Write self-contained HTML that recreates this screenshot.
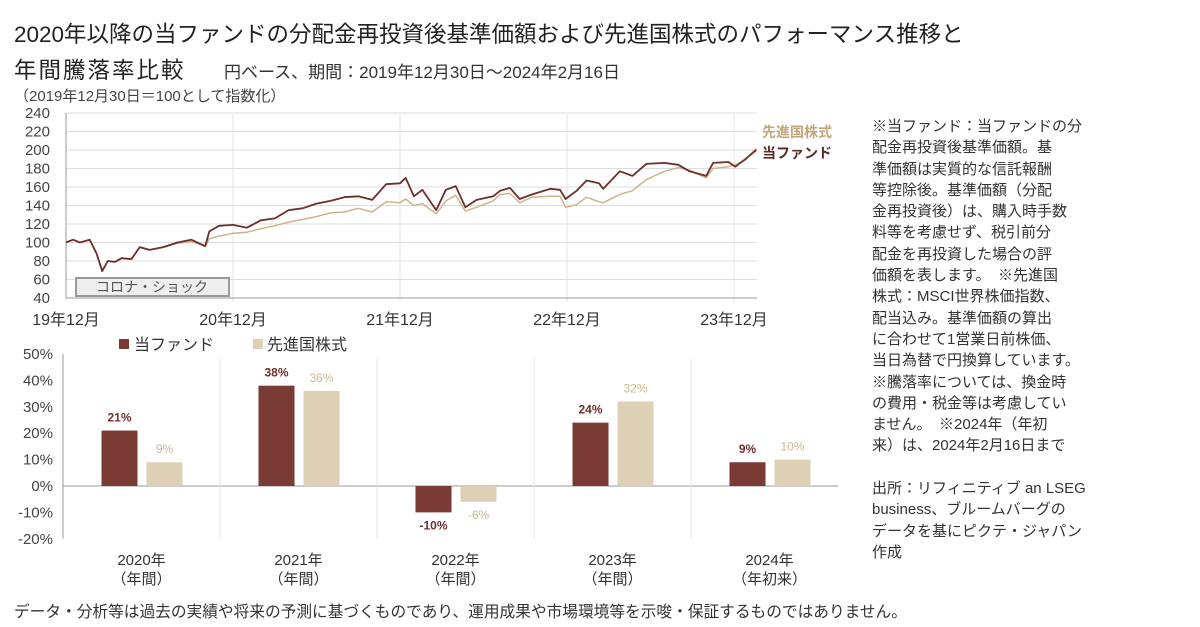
<!DOCTYPE html>
<html><head><meta charset="utf-8">
<style>
body{margin:0;background:#fff;width:1200px;height:627px;overflow:hidden;font-family:"Liberation Sans","Noto Sans CJK JP",sans-serif;color:#333}
.t{position:absolute;white-space:nowrap}
</style></head><body>
<div class="t" style="left:14px;top:17px;font-size:22.5px;color:#222">2020年以降の当ファンドの分配金再投資後基準価額および先進国株式のパフォーマンス推移と</div>
<div class="t" style="left:14px;top:53px;font-size:22.5px;color:#222;letter-spacing:2px">年間騰落率比較</div>
<div class="t" style="left:224px;top:58px;font-size:17px;color:#333">円ベース、期間：2019年12月30日～2024年2月16日</div>
<div class="t" style="left:14px;top:85px;font-size:15px;color:#444">（2019年12月30日＝100として指数化）</div>
<div class="t" style="left:872px;top:116px;font-size:15px;line-height:21.3px;color:#333">※当ファンド：当ファンドの分<br>配金再投資後基準価額。基<br>準価額は実質的な信託報酬<br>等控除後。基準価額（分配<br>金再投資後）は、購入時手数<br>料等を考慮せず、税引前分<br>配金を再投資した場合の評<br>価額を表します。　※先進国<br>株式：MSCI世界株価指数、<br>配当込み。基準価額の算出<br>に合わせて1営業日前株価、<br>当日為替で円換算しています。<br>※騰落率については、換金時<br>の費用・税金等は考慮してい<br>ません。　※2024年（年初<br>来）は、2024年2月16日まで<br><br>出所：リフィニティブ an LSEG<br>business、ブルームバーグの<br>データを基にピクテ・ジャパン<br>作成</div>
<div class="t" style="left:14px;top:599px;font-size:15.7px;color:#333">データ・分析等は過去の実績や将来の予測に基づくものであり、運用成果や市場環境等を示唆・保証するものではありません。</div>
<svg id="chart" width="1200" height="627" style="position:absolute;left:0;top:0"></svg>
<script>
const lineT=[0,0.5,1,1.7,2.2,2.6,3,3.5,4,4.7,5.3,6,7,8,9,10,10.3,11,12,13,14,15,16,17,18,19,20,21,22,23,24,24.4,25,25.6,26.6,27.3,28,28.7,29.5,30.7,31.2,31.9,32.6,33.5,34.8,35.5,35.9,36.7,37.4,38.3,38.6,39.8,40.7,41.7,43,44,44.8,46,46.5,47.6,48.1,48.8,49.6];
const fundVals=[100,103,100,103,88,69,80,79,83,82,95,92,95,100,103,96,112,118,119,116,124,126,135,137,142,145,149,150,146,163,164,170,150,157,135,157,161,138,146,150,156,159,147,152,158,157,147,156,167,164,158,177,172,185,186,184,177,172,186,187,182,190,200];
const worldVals=[100,103,100,103,88,70,80,79,83,82,95,92,95,99,101,96,104,107,110,111,115,118,122,125,128,132,133,137,133,144,143,147,140,142,131,145,151,134,138,145,152,153,143,149,150,150,138,141,149,144,143,152,156,168,177,181,178,170,180,182,184,189,202];
const yTicks=[40,60,80,100,120,140,160,180,200,220,240];
const xTickLabels=["19年12月","20年12月","21年12月","22年12月","23年12月"];
const xTickMonths=[0,12,24,36,48];
const barCats=["2020年","2021年","2022年","2023年","2024年"];
const barSub=["（年間）","（年間）","（年間）","（年間）","（年初来）"];
const fundRet=[21,38,-10,24,9];
const worldRet=[9,36,-6,32,10];
const barTicks=[50,40,30,20,10,0,-10,-20];

const svg=document.getElementById('chart');const NS='http://www.w3.org/2000/svg';
function mk(tag,attrs,parent){const e=document.createElementNS(NS,tag);for(const k in attrs)e.setAttribute(k,attrs[k]);(parent||svg).appendChild(e);return e;}
function tx(x,y,s,attrs){const e=mk('text',Object.assign({x:x,y:y,'font-size':14,fill:'#444','font-family':'"Liberation Sans","Noto Sans CJK JP",sans-serif'},attrs));e.textContent=s;return e;}
const X0=66,X1=734,pxM=(X1-X0)/48;
const xs=m=>X0+m*pxM;
const ys=v=>298-(v-40)*0.925;
yTicks.forEach(v=>{const l=mk('line',{x1:X0,x2:757,y1:ys(v),y2:ys(v),stroke:'#ddd','stroke-width':1});


const t=tx(50,ys(v)+5,String(v),{'text-anchor':'end','font-size':15});

});
xTickMonths.forEach((m,i)=>{const l=mk('line',{x1:xs(m),x2:xs(m),y1:113,y2:302,stroke:'#e4e4e4'});


const t=tx(xs(m),325,xTickLabels[i],{'text-anchor':'middle','font-size':16,fill:'#333'});

});
mk('line',{x1:X0,x2:757,y1:298,y2:298,stroke:'#999'});
mk('line',{x1:X0,x2:X0,y1:113,y2:298,stroke:'#999'});
const box=mk('rect',{x:76,y:278,width:153,height:18,fill:'#eee',stroke:'#999','stroke-width':2});


const ct=tx(152,292,'コロナ・ショック',{'text-anchor':'middle','font-size':14,fill:'#555'});


function path(vals,color,w,name){const d=vals.map((v,i)=>(i?'L':'M')+xs(lineT[i]).toFixed(1)+','+ys(v).toFixed(1)).join('');
const p=mk('path',{d:d,fill:'none',stroke:color,'stroke-width':w,'stroke-linejoin':'round'});

}
path(worldVals,'#cdb48c',1.5,'world-equity-line');
path(fundVals,'#6e2f2b',1.8,'fund-line');
const l1=tx(762,137,'先進国株式',{'font-size':14,fill:'#c3a67a','font-weight':'bold'});


const l2=tx(762,158,'当ファンド',{'font-size':14,fill:'#5a2a26','font-weight':'bold'});


const BX0=63,GW=157;
const by=v=>486-v*2.64;
barTicks.forEach(v=>{const t=tx(53,by(v)+5,v+'%',{'text-anchor':'end','font-size':15});

});
mk('line',{x1:BX0,x2:BX0,y1:by(50),y2:by(-20),stroke:'#999'});
mk('line',{x1:BX0,x2:BX0+5*GW-10,y1:by(0),y2:by(0),stroke:'#999'});
barCats.forEach((c,i)=>{const cx=BX0+GW*(i+0.5);
if(i>0){const s=mk('line',{x1:BX0+GW*i,x2:BX0+GW*i,y1:by(50)+5,y2:by(-20),stroke:'#e6e6e6'});

}
[[fundRet[i],-40,'#7b3b35','#6e2f2b','bold'],[worldRet[i],5,'#ddd0b5','#cdb890','normal']].forEach((b,j)=>{
const v=b[0];const y0=by(Math.max(v,0)),h=Math.abs(by(v)-by(0));
const r=mk('rect',{x:cx+b[1],y:y0,width:36,height:h,fill:b[2]});


const ly=v>=0?by(v)-9:by(v)+17;
const t=tx(cx+b[1]+18,ly,v+'%',{'text-anchor':'middle','font-size':12,fill:b[3],'font-weight':b[4]});

});
const a=tx(cx,565,c,{'text-anchor':'middle','font-size':15,fill:'#333'});


const b2=tx(cx,584,barSub[i],{'text-anchor':'middle','font-size':15,fill:'#333'});

});
const lg1=mk('rect',{x:119,y:339,width:10,height:10,fill:'#7b3b35'});


const lt1=tx(134,350,'当ファンド',{'font-size':16,fill:'#333'});


const lg2=mk('rect',{x:253,y:339,width:10,height:10,fill:'#ddd0b5'});


const lt2=tx(267,350,'先進国株式',{'font-size':16,fill:'#333'});


</script>
</body></html>
